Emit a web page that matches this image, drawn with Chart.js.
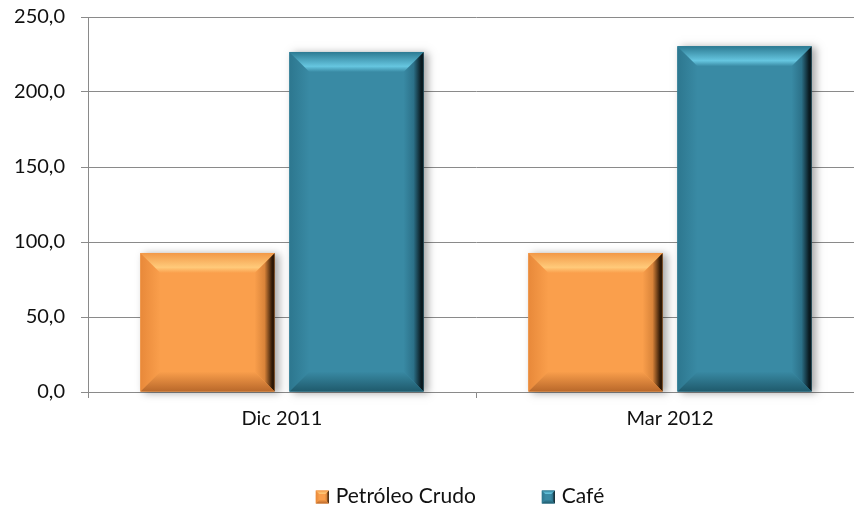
<!DOCTYPE html>
<html>
<head>
<meta charset="utf-8">
<title>Petróleo Crudo y Café</title>
<script src="https://cdn.jsdelivr.net/npm/chart.js@4.4.1/dist/chart.umd.min.js"></script>
<style>
  html, body { margin: 0; padding: 0; background: #ffffff; overflow: hidden; }
  #chart { display: block; }
</style>
</head>
<body>
<canvas id="chart" width="872" height="508"></canvas>
<script>
// Data
const categories = ['Dic 2011', 'Mar 2012'];
const seriesNames = ['Petróleo Crudo', 'Café'];
const petroleoCrudo = [92.7, 92.7];
const cafe = [226.7, 230.5];
const yTickValues = [0, 50, 100, 150, 200, 250];

// Styles
const gridColor = '#8a8a8a';
const textColor = '#111111';
const fontFamily = 'Lato, "Open Sans", sans-serif';
const legendCenterX = 460;
const palette = {
  petroleo: { face: '#fa9f4c', top: '#f29847', glow: '#ffca7a', left: '#e8893a', bottom: '#b9682a', mid: '#d9843a', right: '#2e1806' },
  cafe:     { face: '#398aa4', top: '#2c7a92', glow: '#66c6e0', left: '#2d778f', bottom: '#1f5a6c', mid: '#2c7189', right: '#0a1a20' }
};

// Beveled rectangle: flat face with four shaded facets
function polygon(ctx, pts, fill) {
  ctx.beginPath();
  ctx.moveTo(pts[0][0], pts[0][1]);
  for (let i = 1; i < pts.length; i++) ctx.lineTo(pts[i][0], pts[i][1]);
  ctx.closePath();
  ctx.fillStyle = fill;
  ctx.fill();
}

function bevelRect(ctx, L, T, w, h, c, bevel, shadow) {
  const R = L + w, B = T + h;
  const b = Math.min(bevel, h / 3, w / 3);

  ctx.save();
  if (shadow) {
    ctx.shadowColor = 'rgba(0,0,0,0.35)';
    ctx.shadowBlur = 8;
    ctx.shadowOffsetX = 4;
    ctx.shadowOffsetY = 1;
  }
  ctx.fillStyle = c.face;
  ctx.fillRect(L, T, w, h);
  ctx.restore();

  let g = ctx.createLinearGradient(L, 0, L + b, 0);
  g.addColorStop(0, c.left);
  g.addColorStop(1, c.face);
  polygon(ctx, [[L, T], [L + b, T + b], [L + b, B - b], [L, B]], g);

  g = ctx.createLinearGradient(R - b, 0, R, 0);
  g.addColorStop(0, c.face);
  g.addColorStop(0.5, c.mid);
  g.addColorStop(0.88, c.right);
  g.addColorStop(1, c.right);
  polygon(ctx, [[R, T], [R - b, T + b], [R - b, B - b], [R, B]], g);

  g = ctx.createLinearGradient(0, B - b, 0, B);
  g.addColorStop(0, c.face);
  g.addColorStop(1, c.bottom);
  polygon(ctx, [[L, B], [L + b, B - b], [R - b, B - b], [R, B]], g);

  g = ctx.createLinearGradient(0, T, 0, T + b);
  g.addColorStop(0, c.top);
  g.addColorStop(0.72, c.glow);
  g.addColorStop(1, c.face);
  polygon(ctx, [[L, T], [R, T], [R - b, T + b], [L + b, T + b]], g);
}

// Redraws every bar element with the beveled look
const bevelBars = {
  id: 'bevelBars',
  afterDatasetsDraw(chart) {
    const ctx = chart.ctx;
    chart.data.datasets.forEach((ds, i) => {
      const meta = chart.getDatasetMeta(i);
      if (meta.hidden) return;
      meta.data.forEach(bar => {
        const p = bar.getProps(['x', 'y', 'base', 'width'], true);
        const top = Math.min(p.y, p.base), bottom = Math.max(p.y, p.base);
        bevelRect(ctx, p.x - p.width / 2, top, p.width, bottom - top, ds.bevel, 20, true);
      });
    });
  }
};

// Legend row with small beveled markers
const bevelLegend = {
  id: 'bevelLegend',
  afterDraw(chart) {
    const ctx = chart.ctx;
    const box = 13, textGap = 7, itemGap = 66;
    const cy = chart.height - 12;
    ctx.save();
    ctx.font = '21px ' + fontFamily;
    const items = chart.data.datasets.map(ds => ({
      text: ds.label,
      c: ds.bevel,
      w: box + textGap + ctx.measureText(ds.label).width
    }));
    const total = items.reduce((s, it) => s + it.w, 0) + itemGap * (items.length - 1);
    let x = legendCenterX - total / 2;
    items.forEach(it => {
      bevelRect(ctx, x, cy - box / 2 + 1, box, box, it.c, 4, false);
      ctx.fillStyle = textColor;
      ctx.textAlign = 'left';
      ctx.textBaseline = 'middle';
      ctx.fillText(it.text, x + box + textGap, cy);
      x += it.w + itemGap;
    });
    ctx.restore();
  }
};

new Chart(document.getElementById('chart'), {
  type: 'bar',
  data: {
    labels: categories,
    datasets: [
      { label: seriesNames[0], data: petroleoCrudo, backgroundColor: palette.petroleo.face, borderWidth: 0, bevel: palette.petroleo },
      { label: seriesNames[1], data: cafe, backgroundColor: palette.cafe.face, borderWidth: 0, bevel: palette.cafe }
    ]
  },
  options: {
    responsive: false,
    animation: false,
    events: [],
    categoryPercentage: 0.768,
    barPercentage: 0.9,
    layout: { padding: { top: 17, right: 8, bottom: 76, left: 0 } },
    plugins: {
      tooltip: { enabled: false },
      legend: { display: false }
    },
    scales: {
      x: {
        offset: true,
        grid: { offset: true, drawOnChartArea: false, drawTicks: true, tickLength: 6, color: gridColor },
        border: { color: gridColor, width: 1 },
        ticks: { color: textColor, font: { family: fontFamily, size: 20 }, padding: 9, maxRotation: 0 },
        afterFit(scale) { scale.height = 40; }
      },
      y: {
        min: 0,
        max: 250,
        afterBuildTicks(scale) { scale.ticks = yTickValues.map(v => ({ value: v })); },
        grid: { color: gridColor, tickLength: 7 },
        border: { color: gridColor, width: 1 },
        ticks: {
          color: textColor,
          font: { family: fontFamily, size: 20 },
          padding: 16,
          callback: v => Number(v).toFixed(1).replace('.', ',')
        },
        afterFit(scale) {
          scale.width = 88;
          scale.paddingTop = 0;
          scale.paddingBottom = 0;
        }
      }
    }
  },
  plugins: [bevelBars, bevelLegend]
});
</script>
</body>
</html>
